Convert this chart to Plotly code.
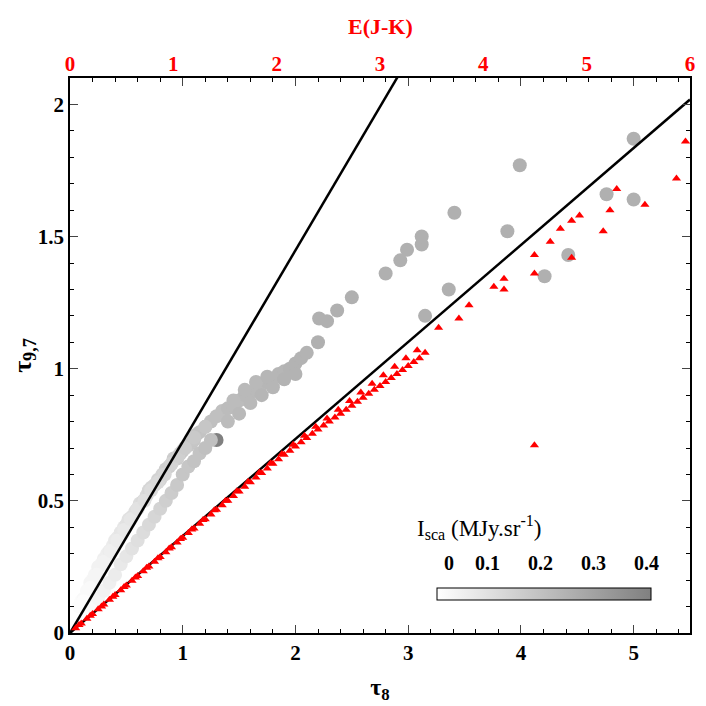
import plotly.graph_objects as go

# Gray circles: tau8, tau9.7, Isca
gx = [0.05,0.08,0.1,0.12,0.15,0.18,0.2,0.22,0.25,0.28,0.3,0.33,0.35,0.38,0.4,0.42,0.45,0.48,0.5,0.52,0.55,0.58,0.6,0.62,0.65,0.68,0.7,0.72,0.75,0.78,0.8,0.82,0.85,0.88,0.9,0.92,0.95,0.98,1.0,1.02,1.05,1.08,1.1,1.12,1.15,1.2,1.25,1.3,1.35,1.4,1.45,1.5,1.55,1.6,1.65,1.7,1.75,1.8,1.85,1.9,1.95,2.0,2.05,2.1,2.2,2.21,2.28,2.37,2.5,2.8,2.93,2.99,3.12,3.12,3.15,3.36,3.41,3.88,3.99,4.21,4.42,4.76,5.0,5.0,1.3,
      0.1,0.15,0.2,0.25,0.3,0.35,0.4,0.45,0.5,0.55,0.6,0.65,0.7,0.75,0.8,0.85,0.9,0.95,1.0,1.05,1.1,1.15,1.2,1.25,1.4,1.5,1.6,1.7,1.8,1.9,2.0,
      0.12,0.18,0.24,0.3,0.36,0.42,0.48,0.54,0.6,0.66,0.72,0.78,0.84,0.9,0.96,1.02,1.1,1.2,1.45,1.55,1.65,1.75]
gy = [0.06,0.1,0.12,0.13,0.16,0.19,0.2,0.22,0.25,0.26,0.28,0.3,0.31,0.33,0.35,0.36,0.38,0.4,0.41,0.43,0.44,0.46,0.47,0.49,0.5,0.52,0.54,0.55,0.56,0.58,0.58,0.6,0.62,0.63,0.64,0.66,0.66,0.68,0.69,0.7,0.71,0.72,0.73,0.75,0.76,0.78,0.8,0.82,0.84,0.85,0.86,0.88,0.9,0.91,0.92,0.94,0.95,0.96,0.98,0.99,1.0,1.02,1.04,1.06,1.1,1.19,1.18,1.22,1.27,1.36,1.41,1.45,1.47,1.5,1.2,1.3,1.59,1.52,1.77,1.35,1.43,1.66,1.87,1.64,0.73,
      0.04,0.07,0.1,0.13,0.16,0.19,0.22,0.26,0.29,0.32,0.35,0.38,0.41,0.44,0.47,0.5,0.53,0.56,0.6,0.63,0.65,0.68,0.7,0.73,0.8,0.83,0.87,0.9,0.93,0.96,0.98,
      0.12,0.17,0.22,0.27,0.31,0.35,0.39,0.43,0.47,0.5,0.54,0.57,0.6,0.64,0.67,0.7,0.74,0.78,0.88,0.92,0.95,0.97]
gc = [0.0,0.01,0.01,0.02,0.02,0.03,0.03,0.03,0.04,0.04,0.05,0.05,0.06,0.06,0.07,0.07,0.08,0.08,0.09,0.09,0.1,0.1,0.11,0.11,0.12,0.12,0.13,0.13,0.13,0.14,0.14,0.14,0.15,0.15,0.15,0.16,0.16,0.16,0.17,0.17,0.17,0.18,0.18,0.18,0.19,0.19,0.2,0.2,0.2,0.21,0.21,0.21,0.22,0.22,0.22,0.22,0.23,0.23,0.23,0.23,0.24,0.24,0.24,0.24,0.25,0.25,0.25,0.25,0.25,0.25,0.25,0.25,0.25,0.25,0.25,0.25,0.25,0.25,0.25,0.25,0.25,0.25,0.25,0.25,0.4,
      0.0,0.01,0.02,0.03,0.04,0.05,0.06,0.07,0.08,0.09,0.1,0.11,0.12,0.13,0.14,0.15,0.16,0.17,0.18,0.18,0.19,0.19,0.2,0.2,0.21,0.22,0.22,0.23,0.23,0.24,0.24,
      0.01,0.02,0.03,0.04,0.05,0.06,0.07,0.08,0.09,0.1,0.11,0.12,0.13,0.14,0.15,0.16,0.17,0.18,0.21,0.22,0.22,0.23]

# Red triangles
rx = [0.05,0.1,0.15,0.2,0.25,0.3,0.35,0.4,0.45,0.5,0.55,0.6,0.65,0.7,0.75,0.8,0.85,0.9,0.95,1.0,1.05,1.1,1.15,1.2,1.25,1.3,1.35,1.4,1.45,1.5,1.55,1.6,1.65,1.7,1.75,1.8,1.85,1.9,1.95,2.0,2.05,2.1,2.15,2.2,2.25,2.3,2.35,2.4,2.45,2.5,2.55,2.6,2.65,2.7,2.75,2.8,2.85,2.9,2.95,3.0,3.05,3.1,3.15,3.27,3.45,3.54,3.76,3.85,3.85,4.12,4.12,4.12,4.26,4.35,4.45,4.45,4.52,4.73,4.79,4.85,5.1,5.38,5.46,
      0.08,0.18,0.28,0.38,0.48,0.58,0.68,0.78,0.88,0.98,1.08,1.18,1.28,1.38,1.48,1.58,1.68,1.78,1.88,1.98,2.08,2.18,2.28,2.38,2.48,2.58,2.68,2.78,2.88,2.98,3.08]
ry = [0.018,0.036,0.054,0.072,0.09,0.108,0.126,0.144,0.162,0.18,0.198,0.216,0.234,0.252,0.27,0.288,0.306,0.324,0.342,0.36,0.378,0.395,0.413,0.43,0.448,0.466,0.483,0.5,0.518,0.535,0.553,0.57,0.588,0.605,0.622,0.64,0.657,0.674,0.69,0.706,0.722,0.738,0.754,0.77,0.785,0.8,0.815,0.83,0.845,0.86,0.875,0.89,0.905,0.92,0.935,0.95,0.965,0.98,0.995,1.01,1.025,1.04,1.06,1.155,1.19,1.24,1.31,1.30,1.34,1.43,1.36,0.71,1.48,1.53,1.56,1.42,1.58,1.52,1.60,1.68,1.62,1.72,1.86,
      0.03,0.065,0.1,0.137,0.174,0.21,0.247,0.283,0.32,0.356,0.392,0.428,0.464,0.5,0.536,0.572,0.607,0.642,0.677,0.712,0.746,0.78,0.812,0.845,0.878,0.91,0.943,0.975,1.007,1.04,1.07]

slopes = [0.724, 0.367]
x_range = [0, 5.5]
y_range = [0, 2.1]
top_range = [0, 6]
cb_labels = [0, 0.1, 0.2, 0.3, 0.4]

FAM = "Liberation Serif"
fig = go.Figure()
fig.add_trace(go.Scatter(x=gx, y=gy, mode="markers",
                         marker=dict(size=14, color=gc, cmin=0, cmax=0.4,
                                     colorscale=[[0, "#ffffff"], [1, "#808080"]],
                                     showscale=True,
                                     colorbar=dict(orientation="h", x=0.764, xanchor="center",
                                                   y=0.057, yanchor="bottom", len=0.345,
                                                   xpad=0, ypad=0,
                                                   thickness=12, outlinecolor="black", outlinewidth=1,
                                                   tickvals=[0.1, 0.2, 0.3], ticks="outside",
                                                   ticklen=0, tickcolor="black",
                                                   showticklabels=False))))
for s in slopes:
    fig.add_trace(go.Scatter(x=x_range, y=[0, s*x_range[1]], mode="lines",
                             line=dict(color="black", width=2.5), hoverinfo="skip"))
fig.add_trace(go.Scatter(x=rx, y=ry, mode="markers",
                         marker=dict(symbol="triangle-up", color="red", size=8)))
fig.add_trace(go.Scatter(x=top_range, y=[None, None], xaxis="x2", mode="markers",
                         showlegend=False, hoverinfo="skip"))

bold = dict(family=FAM, size=21, color="black", weight="bold")
fig.update_layout(
    width=706, height=706, showlegend=False, plot_bgcolor="white", paper_bgcolor="white",
    margin=dict(l=62, r=24, t=70, b=81), font=dict(family=FAM, size=20, color="black"),
    xaxis=dict(range=x_range, showgrid=False, zeroline=False, showline=True, mirror="ticks",
               automargin=False,
               linecolor="black", linewidth=1.5, ticks="inside", ticklen=8, dtick=1,
               minor=dict(ticks="inside", ticklen=4, dtick=0.2, tickcolor="black"),
               tickfont=bold,
               title=dict(text="τ<sub>8</sub>", font=dict(family=FAM, size=24, weight="bold"), standoff=14)),
    yaxis=dict(range=y_range, showgrid=False, zeroline=False, showline=True, mirror="ticks",
               automargin=False,
               linecolor="black", linewidth=1.5, ticks="inside", ticklen=8, dtick=0.5,
               minor=dict(ticks="inside", ticklen=4, dtick=0.1, tickcolor="black"),
               tickfont=bold,
               title=dict(text="τ<sub>9,7</sub>", font=dict(family=FAM, size=26, weight="bold"), standoff=8)),
    xaxis2=dict(range=top_range, overlaying="x", side="top", showgrid=False, zeroline=False,
                automargin=False, ticks="", dtick=1, ticklabelstandoff=2,
                tickfont=dict(family=FAM, size=21, color="red", weight="bold")),
)
cb_x = [0.612, 0.697, 0.783, 0.868, 0.953]
for xp, v in zip(cb_x, cb_labels):
    fig.add_annotation(x=xp, y=0.126, xref="paper", yref="paper",
                       text=f"<b>{v}</b>", showarrow=False, yanchor="middle",
                       font=dict(family=FAM, size=20))
fig.add_annotation(x=0.764, y=0.19, xref="paper", yref="paper", showarrow=False, yanchor="middle",
                   text="I<sub>sca</sub> (MJy.sr<sup>-1</sup>)", font=dict(family=FAM, size=23))
fig.add_annotation(x=0.5, y=1.0, xref="paper", yref="paper", yshift=52, showarrow=False,
                   yanchor="middle", text="<b>E(J-K)</b>",
                   font=dict(family=FAM, size=22, color="red"))
fig.write_html("out.html")
